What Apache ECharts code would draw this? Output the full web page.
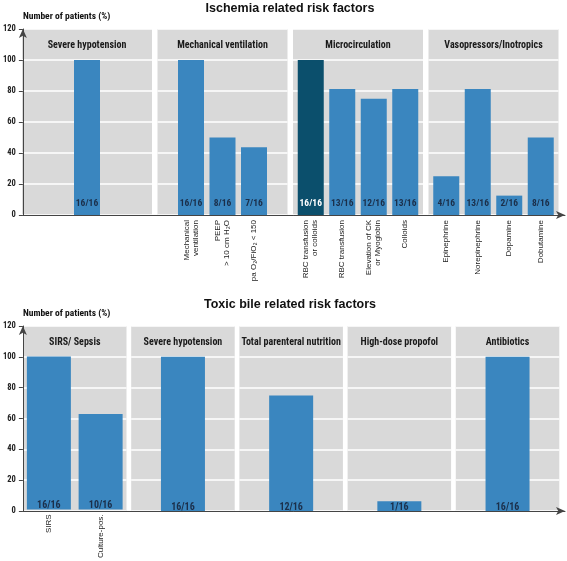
<!DOCTYPE html>
<html><head><meta charset="utf-8">
<script src="https://cdn.jsdelivr.net/npm/echarts@6/dist/echarts.min.js"></script>
<style>html,body{margin:0;padding:0;background:#fff}#c{width:567px;height:561px}</style>
</head><body><div id="c"></div>
<script>
// ---------- data ----------
const chartTitles = ['Ischemia related risk factors', 'Toxic bile related risk factors'];
const yAxisName = 'Number of patients (%)';
const yMin = 0, yMax = 120, yInterval = 20;

const topPanels = ['Severe hypotension', 'Mechanical ventilation', 'Microcirculation', 'Vasopressors/Inotropics'];
const topCategories = [
  [''],
  ['Mechanical\nventilation', 'PEEP\n> 10 cm H\u2082O', 'pa O\u2082/FiO\u2082 < 150'],
  ['RBC transfusion\nor colloids', 'RBC transfusion', 'Elevation of CK\nor Myoglobin', 'Colloids'],
  ['Epinephrine', 'Norepinephrine', 'Dopamine', 'Dobutamine']
];
const topValues = [[100], [100, 50, 43.75], [100, 81.25, 75, 81.25], [25, 81.25, 12.5, 50]];
const topCounts = [['16/16'], ['16/16', '8/16', '7/16'], ['16/16', '13/16', '12/16', '13/16'], ['4/16', '13/16', '2/16', '8/16']];
const topHighlight = 'RBC transfusion\nor colloids';

const bottomPanels = ['SIRS/ Sepsis', 'Severe hypotension', 'Total parenteral nutrition', 'High-dose propofol', 'Antibiotics'];
const bottomCategories = [['SIRS', 'Culture-pos.'], [''], [''], [''], ['']];
const bottomValues = [[100, 62.5], [100], [75], [6.25], [100]];
const bottomCounts = [['16/16', '10/16'], ['16/16'], ['12/16'], ['1/16'], ['16/16']];

// ---------- styles / layout ----------
const NARROW = "'Roboto Condensed','Open Sans Condensed','DejaVu Sans Condensed',sans-serif";
const REG = "'Liberation Sans',Arial,sans-serif";
const BLUE = '#3a86bf', DARK = '#0b4f6c', PANEL = '#d9d9d9', AXIS = '#444';

const topLayout = {left: 22, top: 29, height: 186, frameW: 543, pad: 0, panelW: 130, step: 135.5, slot: 31.5, barW: 26, labelSize: 9.5, labelDist: 6, titleY: -3};
const botLayout = {left: 22, top: 326, height: 185, frameW: 543, pad: 1, panelW: 103.5, step: 108.2, slot: 51.75, barW: 44, labelSize: 10, labelDist: -1, titleY: 293};

const option = {
  animation: false,
  backgroundColor: '#fff',
  title: [],
  grid: [], xAxis: [], yAxis: [], series: []
};

function buildRow(titleText, panels, cats, vals, counts, L, highlight) {
  option.title.push({
    text: titleText, left: 285, top: L.titleY, textAlign: 'center',
    textStyle: {fontFamily: REG, fontSize: 12.5, fontWeight: 'bold', color: '#111'}
  });
  // frame grid with the main axes
  let gi = option.grid.length;
  option.grid.push({left: L.left, top: L.top, width: L.frameW, height: L.height, containLabel: false});
  option.xAxis.push({
    gridIndex: gi, type: 'value', min: 0, max: 1, z: 10,
    axisLine: {show: true, symbol: ['none', 'arrow'], symbolSize: [6, 9], lineStyle: {color: AXIS, width: 1}},
    axisLabel: {show: false}, axisTick: {show: false}, splitLine: {show: false}
  });
  option.yAxis.push({
    gridIndex: gi, type: 'value', min: yMin, max: yMax, interval: yInterval, z: 10,
    name: yAxisName, nameLocation: 'end', nameGap: 12,
    nameTextStyle: {fontFamily: NARROW, fontSize: 9.5, fontWeight: 'bold', color: '#111', align: 'left', verticalAlign: 'middle'},
    axisLine: {show: true, symbol: ['none', 'arrow'], symbolSize: [6, 9], lineStyle: {color: AXIS, width: 1}},
    axisTick: {show: true, length: 4, lineStyle: {color: AXIS}},
    axisLabel: {fontFamily: NARROW, fontSize: 8.5, fontWeight: 'bold', color: '#222', margin: 7},
    splitLine: {show: false}
  });
  panels.forEach((p, i) => {
    const pl = L.left + L.pad + i * L.step;
    // panel background
    gi = option.grid.length;
    option.grid.push({left: pl, top: L.top, width: L.panelW, height: L.height, show: true, backgroundColor: PANEL, borderWidth: 0});
    option.xAxis.push({
      gridIndex: gi, type: 'category', data: [''], position: 'top',
      axisLine: {show: false}, axisTick: {show: false}, axisLabel: {show: false}, splitLine: {show: false},
      name: p, nameLocation: 'middle', nameGap: -16,
      nameTextStyle: {fontFamily: NARROW, fontSize: 10, fontWeight: 'bold', color: '#1a1a1a', verticalAlign: 'middle'}
    });
    option.yAxis.push({
      gridIndex: gi, type: 'value', min: yMin, max: yMax, interval: yInterval,
      axisLine: {show: false}, axisTick: {show: false}, axisLabel: {show: false},
      splitLine: {show: true, lineStyle: {color: '#fff', width: 1.5}}
    });
    // bars
    const n = cats[i].length;
    const w = n * L.slot;
    gi = option.grid.length;
    option.grid.push({left: pl + (L.panelW - w) / 2, top: L.top, width: w, height: L.height});
    option.xAxis.push({
      gridIndex: gi, type: 'category', data: cats[i],
      axisLine: {show: false}, axisTick: {show: false}, splitLine: {show: false},
      axisLabel: {rotate: 90, interval: 0, margin: 5, fontFamily: REG, fontSize: 8, lineHeight: 9, color: '#222'}
    });
    option.yAxis.push({gridIndex: gi, type: 'value', min: yMin, max: yMax, show: false, splitLine: {show: false}});
    option.series.push({
      type: 'bar', xAxisIndex: option.xAxis.length - 1, yAxisIndex: option.yAxis.length - 1,
      barWidth: L.barW,
      data: vals[i].map((v, k) => {
        const hl = cats[i][k] === highlight;
        return {
          value: v,
          itemStyle: {color: hl ? DARK : BLUE},
          label: {color: hl ? '#fff' : '#1b2f4a'}
        };
      }),
      label: {
        show: true, position: 'insideBottom', distance: L.labelDist,
        fontFamily: NARROW, fontSize: L.labelSize, fontWeight: 'bold',
        formatter: (prm) => counts[i][prm.dataIndex]
      }
    });
  });
}

buildRow(chartTitles[0], topPanels, topCategories, topValues, topCounts, topLayout, topHighlight);
buildRow(chartTitles[1], bottomPanels, bottomCategories, bottomValues, bottomCounts, botLayout, null);

const chart = echarts.init(document.getElementById('c'), null, {renderer: 'canvas'});
chart.setOption(option);
</script>
</body></html>
